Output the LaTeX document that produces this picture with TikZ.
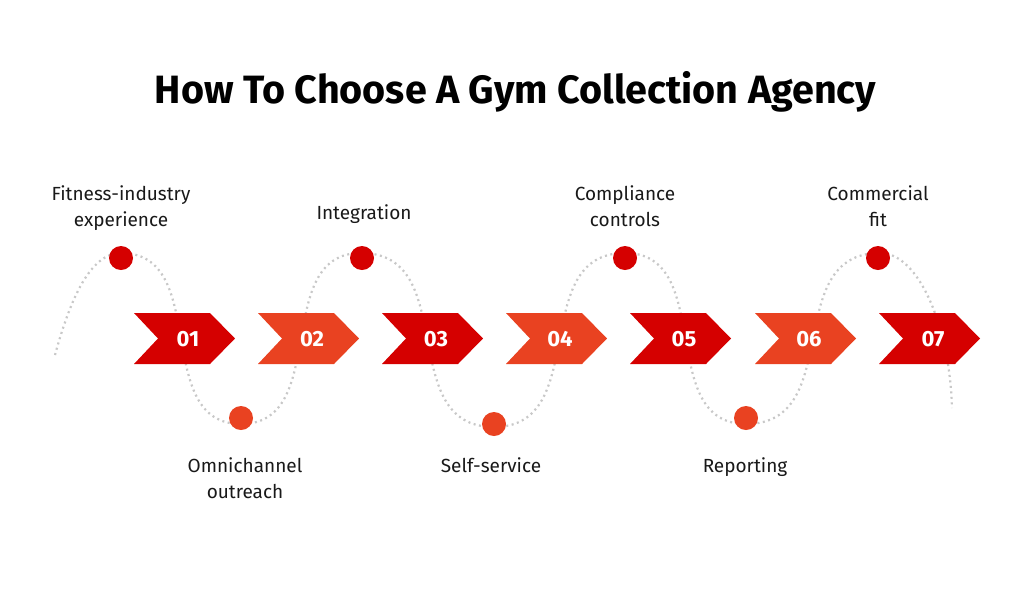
\documentclass[tikz,border=0pt]{standalone}
\usepackage{fontspec}
\setmainfont{Fira Sans}
\definecolor{redA}{RGB}{213,0,0}
\definecolor{redB}{RGB}{233,66,33}
\definecolor{dotgray}{RGB}{200,200,200}
\begin{document}
\begin{tikzpicture}[x=1pt,y=-1pt,
  wave/.style={draw=dotgray, line width=2.2pt, dash pattern=on 2pt off 3.5pt},
  dotA/.style={circle, fill=redA, minimum size=24pt, inner sep=0pt},
  dotB/.style={circle, fill=redB, minimum size=24pt, inner sep=0pt},
  num/.style={text=white, font=\fontsize{22}{26}\selectfont\bfseries},
  lbl/.style={align=center, font=\fontsize{19}{26}\selectfont, anchor=base, text=black!90},
  ttl/.style={font=\fontsize{39.5}{46}\selectfont\bfseries, anchor=base}]
\useasboundingbox (0,0) rectangle (1012,606);
\fill[white] (0,0) rectangle (1012,606);
\node[ttl] (title) at (515.5,103) {How To Choose A Gym Collection Agency};
% dotted wave
\draw[wave] (55,355) .. controls (70,300) and (90,253) .. (121,253)
  .. controls (211,253) and (151,424) .. (241,424)
  .. controls (331,424) and (271,253) .. (361,253)
  .. controls (461,253) and (394,427) .. (494,427)
  .. controls (592,427) and (527,253) .. (625,253)
  .. controls (716,253) and (655,424) .. (746,424)
  .. controls (846,424) and (780,253) .. (880,253)
  .. controls (920,253) and (950,330) .. (952,408);
% chevrons
\foreach \i/\L/\c in {1/134/redA, 2/258/redB, 3/382/redA, 4/506/redB, 5/630/redA, 6/755/redB, 7/879/redA}{
  \fill[\c] (\L,313) -- ++(76,0) -- ++(25,25.5) -- ++(-25,25.5) -- ++(-76,0) -- ++(24,-25.5) -- cycle;
  \node[num] (n\i) at (\L+54,339.5) {0\i};
}
% circles
\node[dotA] (c1) at (121,258) {};
\node[dotB] (c2) at (241,418) {};
\node[dotA] (c3) at (362,258) {};
\node[dotB] (c4) at (494,424) {};
\node[dotA] (c5) at (625,258) {};
\node[dotB] (c6) at (746,418) {};
\node[dotA] (c7) at (878,258) {};
% labels (base anchor = baseline of last line)
\node[lbl] (l1) at (121,226) {Fitness-industry\\experience};
\node[lbl] (l3) at (364,219) {Integration};
\node[lbl] (l5) at (625,226) {Compliance\\controls};
\node[lbl] (l7) at (878,226) {Commercial\\fit};
\node[lbl] (l2) at (245,498) {Omnichannel\\outreach};
\node[lbl] (l4) at (491,472) {Self-service};
\node[lbl] (l6) at (745,472) {Reporting};
\end{tikzpicture}
\end{document}
